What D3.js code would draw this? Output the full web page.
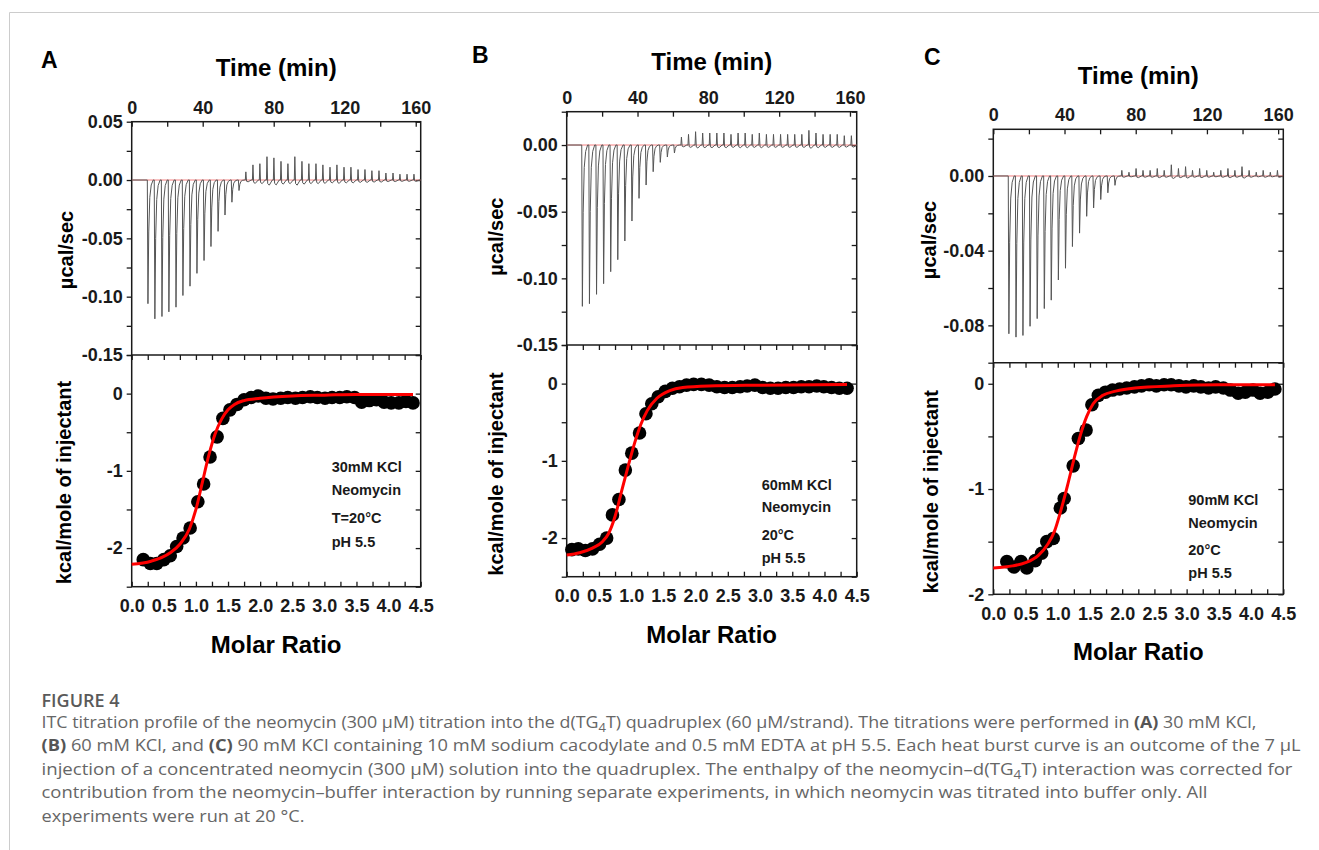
<!DOCTYPE html>
<html>
<head>
<meta charset="utf-8">
<script src="https://cdn.jsdelivr.net/npm/d3@7"></script>
<style>
    body { margin: 0; background: #fff; }
</style>
</head>
<body>
<div id="chart"></div>
<script>
// ---------------- data ----------------

// axis ticks / labels
const timeTicks = [0, 20, 40, 60, 80, 100, 120, 140, 160];
const timeLabels = [0, 40, 80, 120, 160];
const ratioTicks = [0, 0.25, 0.5, 0.75, 1, 1.25, 1.5, 1.75, 2, 2.25, 2.5, 2.75, 3, 3.25, 3.5, 3.75, 4, 4.25, 4.5];
const ratioLabels = [0, 0.5, 1, 1.5, 2, 2.5, 3, 3.5, 4, 4.5];
const rawTicksA = [0.05, 0.025, 0, -0.025, -0.05, -0.075, -0.1, -0.125, -0.15];
const rawLabelsA = [0.05, 0, -0.05, -0.1, -0.15];
const rawTicksB = [0.025, 0, -0.025, -0.05, -0.075, -0.1, -0.125, -0.15];
const rawLabelsB = [0, -0.05, -0.1, -0.15];
const rawTicksC = [0.02, 0, -0.02, -0.04, -0.06, -0.08, -0.1];
const rawLabelsC = [0, -0.04, -0.08];
const heatTicksAB = [0.5, 0, -0.5, -1, -1.5, -2, -2.5];
const heatTicksC = [0, -0.5, -1, -1.5, -2];
const heatLabels = [0, -1, -2];

// raw thermograms: injection times (min) and peak heights (µcal/sec)
const injTimesA = [8.8, 12.7, 16.7, 20.6, 24.6, 28.5, 32.5, 36.4, 40.4, 44.3, 48.3, 52.2, 56.1, 60.1, 64.0, 68.0, 71.9, 75.9, 79.8, 83.8, 87.7, 91.6, 95.6, 99.5, 103.5, 107.4, 111.4, 115.3, 119.3, 123.2, 127.2, 131.1, 135.0, 139.0, 142.9, 146.9, 150.8, 154.8, 158.7];
const peaksA = [-0.106, -0.119, -0.117, -0.113, -0.109, -0.099, -0.091, -0.080, -0.069, -0.057, -0.044, -0.030, -0.019, -0.009,
    0.007, 0.013, 0.014, 0.020, 0.019, 0.016, 0.014, 0.020, 0.016, 0.014, 0.014, 0.013, 0.011, 0.013, 0.011, 0.011, 0.009, 0.009, 0.008, 0.008, 0.006, 0.006, 0.005, 0.005, 0.005];

const injTimesB = [8.5, 12.5, 16.5, 20.5, 24.5, 28.5, 32.5, 36.5, 40.5, 44.5, 48.5, 52.5, 56.5, 60.5, 64.5, 68.5, 72.5, 76.5, 80.5, 84.5, 88.5, 92.5, 96.5, 100.5, 104.5, 108.5, 112.5, 116.5, 120.5, 124.5, 128.5, 132.5, 136.5, 140.5, 144.5, 148.5, 152.5, 156.5, 160.5];
const peaksB = [-0.121, -0.119, -0.112, -0.104, -0.095, -0.086, -0.072, -0.057, -0.040, -0.030, -0.020, -0.013, -0.009, -0.006,
    0.006, 0.008, 0.010, 0.009, 0.009, 0.009, 0.009, 0.008, 0.009, 0.009, 0.008, 0.009, 0.008, 0.008, 0.008, 0.008, 0.008, 0.008, 0.011, 0.009, 0.008, 0.008, 0.008, 0.007, 0.007];

const injTimesC = [8.4, 12.4, 16.3, 20.3, 24.3, 28.3, 32.2, 36.2, 40.2, 44.1, 48.1, 52.1, 56.0, 60.0, 64.0, 68.0, 71.9, 75.9, 79.9, 83.8, 87.8, 91.8, 95.7, 99.7, 103.7, 107.7, 111.6, 115.6, 119.6, 123.5, 127.5, 131.5, 135.4, 139.4, 143.4, 147.4, 151.3, 155.3, 159.3];
const peaksC = [-0.0845, -0.0863, -0.0854, -0.0805, -0.0764, -0.071, -0.0665, -0.0557, -0.0494, -0.0378, -0.0306, -0.0216, -0.0171, -0.0126, -0.009, -0.005,
    0.003, 0.002, 0.004, 0.003, 0.003, 0.004, 0.003, 0.006, 0.004, 0.005, 0.003, 0.004, 0.003, 0.002, 0.003, 0.004, 0.003, 0.005, 0.003, 0.002, 0.003, 0.002, 0.003];

// integrated heats: molar ratio vs kcal/mole of injectant
const ratioA = [0.18, 0.29, 0.39, 0.50, 0.60, 0.70, 0.80, 0.91, 1.03, 1.12, 1.22, 1.33, 1.42, 1.53, 1.64, 1.75, 1.86, 1.97, 2.09, 2.20, 2.32, 2.43, 2.55, 2.66, 2.78, 2.89, 3.01, 3.12, 3.24, 3.35, 3.47, 3.58, 3.70, 3.81, 3.93, 4.04, 4.16, 4.27, 4.38];
const heatA = [-2.15, -2.20, -2.20, -2.15, -2.10, -1.98, -1.87, -1.74, -1.40, -1.17, -0.82, -0.56, -0.32, -0.21, -0.14, -0.08, -0.05, -0.03, -0.06, -0.07, -0.06, -0.05, -0.06, -0.05, -0.04, -0.05, -0.06, -0.05, -0.05, -0.04, -0.05, -0.11, -0.09, -0.08, -0.11, -0.12, -0.12, -0.10, -0.12];
const fitRatioA = [0, 0.3, 0.6, 0.75, 0.9, 1.0, 1.1, 1.2, 1.3, 1.4, 1.5, 1.6, 1.75, 2.0, 2.5, 3.0, 3.5, 4.38];
const fitHeatA = [-2.21, -2.17, -2.06, -1.95, -1.75, -1.5, -1.15, -0.8, -0.52, -0.33, -0.21, -0.14, -0.09, -0.06, -0.03, -0.02, -0.01, -0.01];

const ratioB = [0.08, 0.18, 0.29, 0.40, 0.51, 0.62, 0.71, 0.81, 0.91, 1.01, 1.13, 1.23, 1.32, 1.42, 1.53, 1.64, 1.75, 1.86, 1.97, 2.09, 2.21, 2.33, 2.45, 2.57, 2.69, 2.80, 2.92, 3.04, 3.16, 3.28, 3.40, 3.52, 3.64, 3.76, 3.88, 3.99, 4.11, 4.23, 4.35];
const heatB = [-2.15, -2.14, -2.16, -2.14, -2.08, -2.00, -1.70, -1.50, -1.12, -0.90, -0.64, -0.39, -0.26, -0.17, -0.10, -0.06, -0.04, -0.02, -0.01, -0.01, -0.02, -0.04, -0.05, -0.05, -0.04, -0.03, -0.02, -0.05, -0.06, -0.06, -0.05, -0.05, -0.04, -0.04, -0.03, -0.04, -0.05, -0.06, -0.06];
const fitRatioB = [0, 0.2, 0.4, 0.55, 0.65, 0.75, 0.85, 0.95, 1.05, 1.15, 1.25, 1.4, 1.6, 1.8, 2.2, 3.0, 4.35];
const fitHeatB = [-2.22, -2.19, -2.13, -2.05, -1.94, -1.72, -1.40, -1.08, -0.78, -0.53, -0.35, -0.19, -0.09, -0.05, -0.03, -0.02, -0.01];

const ratioC = [0.21, 0.32, 0.43, 0.52, 0.65, 0.75, 0.83, 0.93, 1.04, 1.10, 1.24, 1.32, 1.44, 1.53, 1.63, 1.74, 1.85, 1.96, 2.07, 2.19, 2.30, 2.42, 2.53, 2.65, 2.76, 2.88, 2.99, 3.11, 3.22, 3.34, 3.45, 3.57, 3.68, 3.80, 3.91, 4.03, 4.14, 4.26, 4.37];
const heatC = [-1.69, -1.74, -1.69, -1.75, -1.68, -1.61, -1.50, -1.47, -1.18, -1.09, -0.78, -0.52, -0.44, -0.20, -0.11, -0.08, -0.06, -0.05, -0.04, -0.03, -0.02, -0.01, -0.02, -0.01, -0.01, -0.02, -0.03, -0.02, -0.03, -0.04, -0.03, -0.04, -0.06, -0.09, -0.08, -0.06, -0.09, -0.08, -0.05];
const fitRatioC = [0, 0.3, 0.5, 0.7, 0.85, 0.95, 1.05, 1.15, 1.25, 1.35, 1.45, 1.55, 1.7, 1.9, 2.2, 2.8, 3.5, 4.37];
const fitHeatC = [-1.75, -1.73, -1.70, -1.63, -1.52, -1.40, -1.20, -0.97, -0.72, -0.49, -0.31, -0.19, -0.11, -0.07, -0.04, -0.02, -0.01, -0.01];

// conditions printed inside each lower panel
const notesA = ["30mM KCl", "Neomycin", "T=20°C", "pH 5.5"];
const notesB = ["60mM KCl", "Neomycin", "20°C", "pH 5.5"];
const notesC = ["90mM KCl", "Neomycin", "20°C", "pH 5.5"];

// caption
const captionTitle = "FIGURE 4";
const captionLines = [
    [["ITC titration profile of the neomycin (300 µM) titration into the d(TG"], ["4", "sub"], ["T) quadruplex (60 µM/strand). The titrations were performed in "], ["(A)", "b"], [" 30 mM KCl,"]],
    [["(B)", "b"], [" 60 mM KCl, and "], ["(C)", "b"], [" 90 mM KCl containing 10 mM sodium cacodylate and 0.5 mM EDTA at pH 5.5. Each heat burst curve is an outcome of the 7 µL"]],
    [["injection of a concentrated neomycin (300 µM) solution into the quadruplex. The enthalpy of the neomycin–d(TG"], ["4", "sub"], ["T) interaction was corrected for"]],
    [["contribution from the neomycin–buffer interaction by running separate experiments, in which neomycin was titrated into buffer only. All"]],
    [["experiments were run at 20 °C."]]
];

// ---------------- drawing ----------------

const FONT = "'Liberation Sans', Arial, Helvetica, sans-serif";
const INK = "#1a1a1a";

// peak shape used to draw one heat burst (time offset in min, fraction of peak)
const shapeDown = [[0, 0], [0.35, 1], [0.8, 0.42], [1.4, 0.14], [2.2, 0.04], [3.3, 0]];
const shapeUp = [[0, 0], [0.3, 1], [0.7, -0.15], [1.6, -0.22], [3.3, 0]];

class ItcPanel {

    constructor(_svg, _cfg) {
        this.svg = _svg;
        this.cfg = _cfg;
        this.initVis();
    }

    initVis() {
        let vis = this;
        let c = vis.cfg;

        vis.xTime = d3.scaleLinear().domain([0, c.timeMax]).range([c.left, c.right]);
        vis.yRaw = d3.scaleLinear().domain(c.rawDomain).range([c.mid, c.top]);
        vis.xRatio = d3.scaleLinear().domain([0, 4.5]).range([c.left, c.right]);
        vis.yHeat = d3.scaleLinear().domain(c.heatDomain).range([c.bottom, c.mid]);

        vis.g = vis.svg.append("g");

        vis.g.append("clipPath").attr("id", "clip" + c.letter)
            .append("rect")
            .attr("x", c.left).attr("y", c.top)
            .attr("width", c.right - c.left).attr("height", c.mid - c.top);

        vis.drawAxes();
        vis.wrangleData();
    }

    drawAxes() {
        let vis = this;
        let c = vis.cfg;

        let styleAxis = (sel) => {
            sel.attr("font-family", FONT).attr("font-size", 18).attr("font-weight", "bold");
            sel.select(".domain").remove();
            sel.selectAll(".tick line").attr("stroke", INK).attr("stroke-width", 1.3);
            sel.selectAll(".tick text").attr("fill", INK);
        };

        // top time axis, ticks pointing in
        vis.g.append("g")
            .attr("transform", "translate(0," + c.top + ")")
            .call(d3.axisTop(vis.xTime).tickValues(timeTicks).tickSize(-5).tickPadding(8)
                .tickFormat(d => timeLabels.includes(d) ? d : ""))
            .call(styleAxis);

        // raw signal, left (outward) and right (inward)
        vis.g.append("g")
            .attr("transform", "translate(" + c.left + ",0)")
            .call(d3.axisLeft(vis.yRaw).tickValues(c.rawTicks).tickSize(5).tickPadding(4)
                .tickFormat(d => c.rawLabels.includes(d) ? d.toFixed(2) : ""))
            .call(styleAxis);
        vis.g.append("g")
            .attr("transform", "translate(" + c.right + ",0)")
            .call(d3.axisRight(vis.yRaw).tickValues(c.rawTicks).tickSize(-5).tickFormat(""))
            .call(styleAxis);

        // molar ratio ticks on the shared edge and the bottom
        vis.g.append("g")
            .attr("transform", "translate(0," + c.mid + ")")
            .call(d3.axisBottom(vis.xRatio).tickValues(ratioTicks).tickSize(5).tickFormat(""))
            .call(styleAxis);
        vis.g.append("g")
            .attr("transform", "translate(0," + c.bottom + ")")
            .call(d3.axisBottom(vis.xRatio).tickValues(ratioTicks).tickSize(-5).tickPadding(13)
                .tickFormat(d => ratioLabels.includes(d) ? d.toFixed(1) : ""))
            .call(styleAxis);

        // heat axis
        vis.g.append("g")
            .attr("transform", "translate(" + c.left + ",0)")
            .call(d3.axisLeft(vis.yHeat).tickValues(c.heatTicks).tickSize(5).tickPadding(4)
                .tickFormat(d => heatLabels.includes(d) ? String(d) : ""))
            .call(styleAxis);
        vis.g.append("g")
            .attr("transform", "translate(" + c.right + ",0)")
            .call(d3.axisRight(vis.yHeat).tickValues(c.heatTicks).tickSize(-5).tickFormat(""))
            .call(styleAxis);

        // frames
        vis.g.append("rect")
            .attr("x", c.left).attr("y", c.top)
            .attr("width", c.right - c.left).attr("height", c.bottom - c.top)
            .attr("fill", "none").attr("stroke", INK).attr("stroke-width", 1.5);
        vis.g.append("line")
            .attr("x1", c.left).attr("x2", c.right)
            .attr("y1", c.mid).attr("y2", c.mid)
            .attr("stroke", INK).attr("stroke-width", 1.5);

        // titles
        let cx = (c.left + c.right) / 2;
        vis.g.append("text")
            .attr("x", c.letterX).attr("y", c.letterY)
            .attr("font-family", FONT).attr("font-weight", "bold").attr("font-size", 23)
            .attr("fill", "#000")
            .text(c.letter);
        vis.g.append("text")
            .attr("x", cx).attr("y", c.timeTitleY)
            .attr("text-anchor", "middle")
            .attr("font-family", FONT).attr("font-weight", "bold").attr("font-size", 24)
            .attr("fill", "#000")
            .text("Time (min)");
        vis.g.append("text")
            .attr("x", cx).attr("y", c.bottom + 66)
            .attr("text-anchor", "middle")
            .attr("font-family", FONT).attr("font-weight", "bold").attr("font-size", 24)
            .attr("fill", "#000")
            .text("Molar Ratio");

        vis.g.append("text")
            .attr("transform", "translate(" + c.rawTitle[0] + "," + c.rawTitle[1] + ") rotate(-90)")
            .attr("dy", "0.3em")
            .attr("text-anchor", "middle")
            .attr("font-family", FONT).attr("font-weight", "bold").attr("font-size", 20)
            .attr("fill", "#000")
            .text("µcal/sec");
        vis.g.append("text")
            .attr("transform", "translate(" + c.heatTitle[0] + "," + c.heatTitle[1] + ") rotate(-90)")
            .attr("dy", "0.3em")
            .attr("text-anchor", "middle")
            .attr("font-family", FONT).attr("font-weight", "bold").attr("font-size", 20)
            .attr("fill", "#000")
            .text("kcal/mole of injectant");

        vis.g.append("g").selectAll("text")
            .data(c.notes)
            .enter().append("text")
            .attr("x", c.noteX)
            .attr("y", (d, i) => c.noteY[i] + 5)
            .attr("font-family", FONT).attr("font-weight", "bold").attr("font-size", 14.5)
            .attr("fill", INK)
            .text(d => d);
    }

    wrangleData() {
        let vis = this;
        let c = vis.cfg;

        // thermogram: baseline with one burst per injection
        vis.trace = [[0, 0]];
        c.injTimes.forEach((t, i) => {
            let h = c.peaks[i];
            let shape = h < 0 ? shapeDown : shapeUp;
            shape.forEach(s => vis.trace.push([t + s[0], h * s[1]]));
        });
        vis.trace.push([c.timeMax, 0]);

        vis.points = c.ratio.map((r, i) => ({ratio: r, heat: c.heat[i]}));
        vis.fit = c.fitRatio.map((r, i) => ({ratio: r, heat: c.fitHeat[i]}));

        vis.updateVis();
    }

    updateVis() {
        let vis = this;
        let c = vis.cfg;

        let raw = vis.g.append("g").attr("clip-path", "url(#clip" + c.letter + ")");

        raw.append("line")
            .attr("x1", vis.xTime(0)).attr("x2", vis.xTime(c.timeMax))
            .attr("y1", vis.yRaw(0)).attr("y2", vis.yRaw(0))
            .attr("stroke", "#f07070").attr("stroke-width", 0.9);

        raw.append("path")
            .datum(vis.trace)
            .attr("fill", "none")
            .attr("stroke", "#555")
            .attr("stroke-width", 1)
            .attr("stroke-linejoin", "round")
            .attr("d", d3.line().x(d => vis.xTime(d[0])).y(d => vis.yRaw(d[1])));

        vis.g.append("g").selectAll("circle")
            .data(vis.points)
            .enter().append("circle")
            .attr("cx", d => vis.xRatio(d.ratio))
            .attr("cy", d => vis.yHeat(d.heat))
            .attr("r", 6.8)
            .attr("fill", "#000");

        vis.g.append("path")
            .datum(vis.fit)
            .attr("fill", "none")
            .attr("stroke", "#ff0000")
            .attr("stroke-width", 3)
            .attr("d", d3.line().curve(d3.curveMonotoneX)
                .x(d => vis.xRatio(d.ratio)).y(d => vis.yHeat(d.heat)));
    }
}

const svg = d3.select("#chart").append("svg")
    .attr("width", 1319)
    .attr("height", 850);

// light border of the figure box
svg.append("path")
    .attr("d", "M9.5,850 V12.5 H1319")
    .attr("fill", "none")
    .attr("stroke", "#cccccc")
    .attr("stroke-width", 1);

const panels = [
    {
        letter: "A", left: 131.7, right: 420.7, top: 121.7, mid: 355, bottom: 586.7,
        timeMax: 162.8, rawDomain: [-0.15, 0.05], heatDomain: [-2.5, 0.5],
        rawTicks: rawTicksA, rawLabels: rawLabelsA, heatTicks: heatTicksAB,
        letterX: 41, letterY: 68, timeTitleY: 75.5,
        rawTitle: [67, 250], heatTitle: [65, 482.5],
        noteX: 331.7, noteY: [466.7, 490, 518.3, 541.7], notes: notesA,
        injTimes: injTimesA, peaks: peaksA,
        ratio: ratioA, heat: heatA, fitRatio: fitRatioA, fitHeat: fitHeatA
    },
    {
        letter: "B", left: 566.7, right: 856.7, top: 111.7, mid: 345, bottom: 576.7,
        timeMax: 163.8, rawDomain: [-0.15, 0.025], heatDomain: [-2.5, 0.5],
        rawTicks: rawTicksB, rawLabels: rawLabelsB, heatTicks: heatTicksAB,
        letterX: 472, letterY: 63, timeTitleY: 70,
        rawTitle: [496.7, 236.7], heatTitle: [496.7, 474],
        noteX: 761.7, noteY: [485, 506.7, 535, 558.3], notes: notesB,
        injTimes: injTimesB, peaks: peaksB,
        ratio: ratioB, heat: heatB, fitRatio: fitRatioB, fitHeat: fitHeatB
    },
    {
        letter: "C", left: 993.3, right: 1283.3, top: 129.3, mid: 362.7, bottom: 594.3,
        timeMax: 162.9, rawDomain: [-0.1, 0.025], heatDomain: [-2, 0.2],
        rawTicks: rawTicksC, rawLabels: rawLabelsC, heatTicks: heatTicksC,
        letterX: 924, letterY: 65, timeTitleY: 83.5,
        rawTitle: [930, 240], heatTitle: [931.7, 491.7],
        noteX: 1188.3, noteY: [500, 522.7, 550, 573.3], notes: notesC,
        injTimes: injTimesC, peaks: peaksC,
        ratio: ratioC, heat: heatC, fitRatio: fitRatioC, fitHeat: fitHeatC
    }
];

panels.forEach(p => new ItcPanel(svg, p));

// caption block
const CAP_FONT = "'Open Sans', 'Noto Sans', sans-serif";
const capX = 41.5;
const capBase = [727.5, 751, 774.5, 798, 821.5];
const capWidth = [1215, 1259, 1251, 1166, 263];

svg.append("text")
    .attr("x", capX).attr("y", 707)
    .attr("font-family", CAP_FONT).attr("font-size", 18).attr("font-weight", 600)
    .attr("fill", "#5a5a5a")
    .text(captionTitle);

captionLines.forEach((line, i) => {
    let t = svg.append("text")
        .attr("x", capX).attr("y", capBase[i])
        .attr("font-family", CAP_FONT).attr("font-size", 16.5)
        .attr("fill", "#666")
        .attr("textLength", capWidth[i])
        .attr("lengthAdjust", "spacingAndGlyphs");
    let shifted = false;
    line.forEach(seg => {
        let ts = t.append("tspan").text(seg[0]);
        if (seg[1] === "b") ts.attr("font-weight", "bold").attr("fill", "#555");
        if (seg[1] === "sub") {
            ts.attr("font-size", 12).attr("dy", 4);
            shifted = true;
        } else if (shifted) {
            ts.attr("dy", -4);
            shifted = false;
        }
    });
});
</script>
</body>
</html>
